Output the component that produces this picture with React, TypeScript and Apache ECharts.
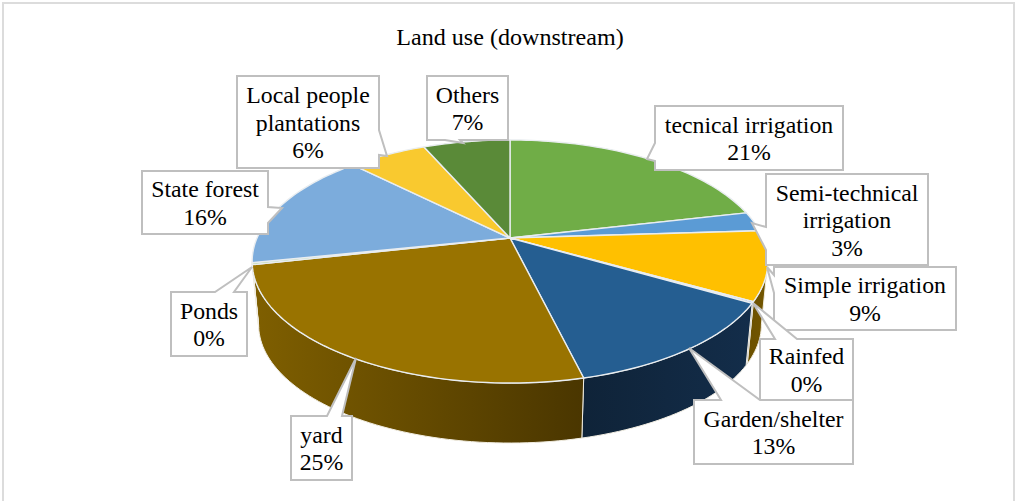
import React, { useEffect, useRef } from "react";
import * as echarts from "echarts";

// Land use shares, in percent of the downstream area.
const categories = [
  "tecnical irrigation",
  "Semi-technical irrigation",
  "Simple irrigation",
  "Rainfed",
  "Garden/shelter",
  "yard",
  "Ponds",
  "State forest",
  "Local people plantations",
  "Others",
];
const shares = [21.4, 2.6, 9.2, 0.2, 12.8, 25.3, 0.25, 15.8, 5.9, 6.55];

const topColors = [
  "#70ad47", "#5b9bd5", "#ffc000", "#4472c4", "#255e91",
  "#997300", "#a9d18e", "#7cacdc", "#f9c92f", "#5a8a38",
];
// Left and right shade of each slice's outer wall.
const wallShades: [string, string][] = [
  ["#43682a", "#43682a"], ["#37608a", "#37608a"], ["#6b5000", "#735600"], ["#1f3a68", "#1f3a68"],
  ["#0f2338", "#132d4a"], ["#7f5f00", "#4a3600"], ["#66803f", "#66803f"], ["#4a6f96", "#4a6f96"],
  ["#9a7a1a", "#9a7a1a"], ["#375522", "#375522"],
];

const CX = 510;
const CY = 238;
const HALF_W = 253;
const HALF_H = 117;
const TILT = 0.1934;
const WALL_SCALE = 0.975;
const WALL_DROP = 63.6;
// Angular range of the rim that faces the viewer, clockwise from twelve o'clock.
const FRONT_FROM = 101;
const FRONT_TO = 259;

const total = shares.reduce((a, b) => a + b, 0);
const starts = shares.map((_, i) => shares.slice(0, i).reduce((a, b) => a + b, 0));

const toDeg = (v: number) => echarts.number.linearMap(v, [0, total], [0, 360]);

// Perspective projection of a point on the pie's disc.
function rim(deg: number, level: number): [number, number] {
  const t = (deg * Math.PI) / 180;
  const u = Math.sin(t);
  const v = Math.cos(t);
  const w = 1 + TILT * v;
  const x = (HALF_W * u) / w;
  const y = -(HALF_H * v) / w;
  return level === 0
    ? [CX + x, CY + y]
    : [CX + x * WALL_SCALE, CY + y * WALL_SCALE + WALL_DROP];
}

function arcPoints(from: number, to: number, level: number): [number, number][] {
  const steps = Math.max(2, Math.ceil((to - from) / 1.5));
  const pts: [number, number][] = [];
  for (let i = 0; i <= steps; i++) pts.push(rim(from + ((to - from) * i) / steps, level));
  return pts;
}

function renderWall(params: any, api: any) {
  const i = params.dataIndex;
  const from = Math.max(toDeg(starts[i]), FRONT_FROM);
  const to = Math.min(toDeg(starts[i] + api.value(1)), FRONT_TO);
  if (to <= from) return null;
  const pts = [...arcPoints(from, to, 0), ...arcPoints(from, to, 1).reverse()];
  return {
    type: "polygon",
    shape: { points: pts },
    style: {
      fill: new echarts.graphic.LinearGradient(0, 0, 1, 0, [
        { offset: 0, color: wallShades[i][0] },
        { offset: 1, color: wallShades[i][1] },
      ]),
      stroke: "#f1ede2",
      lineWidth: 1,
    },
  };
}

function renderTop(params: any, api: any) {
  const i = params.dataIndex;
  const from = toDeg(starts[i]);
  const to = toDeg(starts[i] + api.value(1));
  return {
    type: "polygon",
    shape: { points: [[CX, CY], ...arcPoints(from, to, 0)] },
    style: { fill: topColors[i], stroke: "#e9edf0", lineWidth: 1.4, lineJoin: "round" },
  };
}

type Edge = "top" | "right" | "bottom" | "left";
interface Callout {
  lines: string[];
  box: [number, number, number, number];
  edge: Edge;
  base: [number, number];
  tip: [number, number];
}

// Callout boxes, in the same order as the categories.
const callouts: Callout[] = [
  { lines: ["tecnical irrigation"], box: [655, 106, 843, 170], edge: "left", base: [161, 143], tip: [647, 159] },
  { lines: ["Semi-technical", "irrigation"], box: [766, 174, 928, 265], edge: "left", base: [250, 227], tip: [752, 223] },
  { lines: ["Simple irrigation"], box: [774, 267, 956, 330], edge: "left", base: [293, 275], tip: [767, 267] },
  { lines: ["Rainfed"], box: [760, 339, 853, 400], edge: "top", base: [775, 797], tip: [753, 303] },
  { lines: ["Garden/shelter"], box: [694, 400, 853, 464], edge: "top", base: [721, 760], tip: [689, 348] },
  { lines: ["yard"], box: [291, 416, 352, 480], edge: "top", base: [327, 342], tip: [356, 358] },
  { lines: ["Ponds"], box: [171, 292, 247, 356], edge: "top", base: [215, 234], tip: [252, 267] },
  { lines: ["State forest"], box: [142, 171, 268, 234], edge: "right", base: [207, 223], tip: [282, 208] },
  { lines: ["Local people", "plantations"], box: [237, 76, 379, 168], edge: "right", base: [130, 155], tip: [387, 156] },
  { lines: ["Others"], box: [427, 76, 508, 140], edge: "bottom", base: [460, 445], tip: [463, 143] },
];

function outline(c: Callout): number[][] {
  const [x0, y0, x1, y1] = c.box;
  const [a, b] = c.base;
  const top = c.edge === "top" ? [[a, y0], c.tip, [b, y0]] : [];
  const right = c.edge === "right" ? [[x1, a], c.tip, [x1, b]] : [];
  const bottom = c.edge === "bottom" ? [[a, y1], c.tip, [b, y1]] : [];
  const left = c.edge === "left" ? [[x0, a], c.tip, [x0, b]] : [];
  return [[x0, y0], ...top, [x1, y0], ...right, [x1, y1], ...bottom, [x0, y1], ...left];
}

const SERIF = '"Liberation Serif", "Times New Roman", serif';
const FONT_SIZE = 23.8;

function calloutGraphics() {
  const items: any[] = [];
  callouts.forEach((c, i) => {
    const [x0, y0, x1, y1] = c.box;
    const pct = Math.round((shares[i] / total) * 100);
    const lines = [...c.lines, `${pct}%`];
    items.push({
      type: "polygon",
      z: 10 + i,
      shape: { points: outline(c) },
      style: { fill: "#ffffff", stroke: "#bfbfbf", lineWidth: 2, lineJoin: "miter" },
    });
    const lineH = 27.5;
    const firstY = (y0 + y1) / 2 - ((lines.length - 1) * lineH) / 2 + 0.5;
    lines.forEach((ln, k) => {
      items.push({
        type: "text",
        z: 10 + i,
        x: (x0 + x1) / 2,
        y: firstY + k * lineH,
        style: {
          text: ln,
          fill: "#000000",
          font: `${FONT_SIZE}px ${SERIF}`,
          textAlign: "center",
          textVerticalAlign: "middle",
        },
      });
    });
  });
  return items;
}

export default function App() {
  const ref = useRef<HTMLDivElement>(null);
  useEffect(() => {
    document.body.style.margin = "0";
    const chart = echarts.init(ref.current!, undefined, { renderer: "svg" });
    const seriesData = shares.map((v, i) => [i, v]);
    chart.setOption({
      animation: false,
      backgroundColor: "#ffffff",
      title: {
        text: "Land use (downstream)",
        left: 505,
        top: 20,
        textAlign: "center",
        textStyle: { fontFamily: SERIF, fontSize: 24.1, fontWeight: "normal", color: "#000000" },
      },
      series: [
        { type: "custom", name: categories.join(", "), coordinateSystem: "none", z: 1, renderItem: renderWall, data: seriesData, silent: true },
        { type: "custom", coordinateSystem: "none", z: 2, renderItem: renderTop, data: seriesData, silent: true },
      ],
      graphic: [
        {
          type: "polyline",
          z: 0,
          shape: { points: [[3, 501], [3, 3], [1014, 3], [1014, 501]] },
          style: { fill: "none", stroke: "#dcdcdc", lineWidth: 2 },
        },
        ...calloutGraphics(),
      ],
    });
    return () => chart.dispose();
  }, []);
  return <div ref={ref} style={{ width: 1016, height: 501 }} />;
}
